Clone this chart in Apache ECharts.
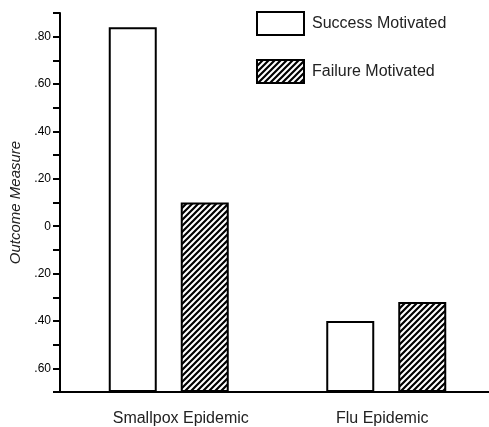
<!DOCTYPE html>
<html>
<head>
<meta charset="utf-8">
<script src="https://cdn.jsdelivr.net/npm/echarts@6/dist/echarts.min.js"></script>
<style>
  html, body { margin: 0; padding: 0; background: #fff; overflow: hidden; }
  #chart { width: 489px; height: 427px; }
</style>
</head>
<body>
<div id="chart"></div>
<script>
// Outcome measure by epidemic framing and motivation group
const categories = ['Smallpox Epidemic', 'Flu Epidemic'];
const seriesNames = ['Success Motivated', 'Failure Motivated'];
const successValues = [0.84, -0.40];
const failureValues = [0.10, -0.32];
const axisMin = -0.7;
const axisMax = 0.9;
const tickStep = 0.1;

// Diagonal hatch tile for the failure group
function hatchTile() {
  const s = 6;
  const c = document.createElement('canvas');
  c.width = s; c.height = s;
  const g = c.getContext('2d');
  g.fillStyle = '#fff';
  g.fillRect(0, 0, s, s);
  g.strokeStyle = '#000';
  g.lineWidth = 2.2;
  g.beginPath();
  g.moveTo(-s / 2, s * 1.5); g.lineTo(s * 1.5, -s / 2);
  g.moveTo(-s / 2, s / 2); g.lineTo(s / 2, -s / 2);
  g.moveTo(s / 2, s * 1.5); g.lineTo(s * 1.5, s / 2);
  g.stroke();
  return c;
}

const chart = echarts.init(document.getElementById('chart'), null, { renderer: 'canvas' });

function tickText(v) {
  const n = Math.round(v * 10);
  if (n % 2 !== 0) return '';
  if (n === 0) return '0';
  return '.' + String(Math.abs(n) * 10).padStart(2, '0');
}

chart.setOption({
  animation: false,
  backgroundColor: '#fff',
  grid: { left: 60, width: 435, top: 13, bottom: 35, containLabel: false, outerBoundsMode: 'none' },
  legend: {
    orient: 'vertical',
    left: 256,
    top: 11,
    padding: 0,
    itemWidth: 47,
    itemHeight: 23,
    itemGap: 23,
    icon: 'rect',
    selectedMode: false,
    textStyle: { fontFamily: 'Liberation Sans, Arial, sans-serif', fontSize: 16, color: '#222', padding: [0, 0, 0, 3] },
    itemStyle: { borderColor: '#000', borderWidth: 2 },
    data: seriesNames
  },
  xAxis: {
    type: 'category',
    data: categories,
    axisLine: { onZero: false, lineStyle: { color: '#000', width: 2 } },
    axisTick: { show: false },
    axisLabel: {
      margin: 19,
      fontFamily: 'Liberation Sans, Arial, sans-serif',
      fontSize: 16,
      color: '#222',
      formatter: function (v, i) { return i === 0 ? '{a|' + v + '}' : '{b|' + v + '}'; },
      rich: {
        a: { fontSize: 16, color: '#222', padding: [0, 0, 0, 24] },
        b: { fontSize: 16, color: '#222', padding: [0, 8, 0, 0] }
      }
    }
  },
  yAxis: {
    type: 'value',
    min: axisMin,
    max: axisMax,
    interval: tickStep,
    startValue: axisMin,
    name: 'Outcome Measure',
    nameLocation: 'middle',
    nameGap: 34,
    nameTextStyle: { fontFamily: 'Liberation Sans, Arial, sans-serif', fontSize: 15, fontStyle: 'italic', color: '#222' },
    splitLine: { show: false },
    axisLine: { show: true, lineStyle: { color: '#000', width: 2 } },
    axisTick: { show: true, length: 7, lineStyle: { color: '#000', width: 2 } },
    axisLabel: {
      margin: 9,
      fontFamily: 'Liberation Sans, Arial, sans-serif',
      fontSize: 12,
      color: '#000',
      formatter: tickText
    }
  },
  series: [
    {
      name: seriesNames[0],
      type: 'bar',
      data: successValues,
      barWidth: 48,
      barGap: '50%',
      itemStyle: { color: '#fff', borderColor: '#000', borderWidth: 2 }
    },
    {
      name: seriesNames[1],
      type: 'bar',
      data: failureValues,
      barWidth: 48,
      barGap: '50%',
      itemStyle: { color: { image: hatchTile(), repeat: 'repeat' }, borderColor: '#000', borderWidth: 2 }
    }
  ]
});
</script>
</body>
</html>
